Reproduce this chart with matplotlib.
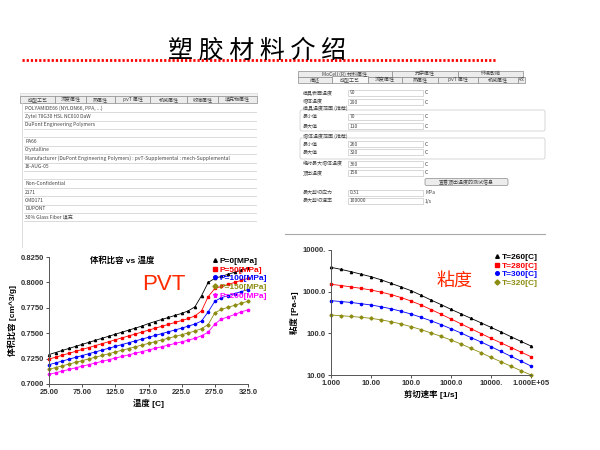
import matplotlib
matplotlib.use('Agg')
import matplotlib.pyplot as plt
from matplotlib.lines import Line2D
from matplotlib.patches import Rectangle, FancyBboxPatch
from matplotlib.ticker import FixedLocator, NullLocator, FixedFormatter

plt.rcParams['font.family'] = ['Liberation Sans', 'Noto Sans CJK SC']

# ---------------- slide text ----------------
title_text = '塑 胶 材 料 介 绍'

left_tabs = ['成型工艺', '流变属性', '热属性', 'pvT 属性', '机械属性', '收缩属性', '填充物属性']
left_rows = ['POLYAMIDE66 (NYLON66, PPA, ...)', 'Zytel 70G30 HSL NC010 DaW',
             'DuPont Engineering Polymers', '', 'PA66', 'Crystalline',
             'Manufacturer (DuPont Engineering Polymers) : pvT-Supplemental : mech-Supplemental',
             '16-AUG-05', '', 'Non-Confidential', '2171', 'CMD171', 'DUPONT',
             '30% Glass Fiber 填充']

right_tabs_top = ['MoCell (R) 材料属性', '光学属性', '环境影响']
right_tabs = ['描述', '成型工艺', '流变属性', '热属性', 'pvT 属性', '机械属性', '收']
right_labels = ['模具表面温度', '熔体温度', '模具温度范围 (推荐)', '最小值', '最大值',
                '熔体温度范围 (推荐)', '最小值', '最大值', '绝对最大熔体温度', '顶出温度',
                '', '最大剪切应力', '最大剪切速率']
right_values = ['90', '290', None, '70', '110', None, '260', '320', '360', '158',
                None, '0.31', '100000']
right_units = ['C', 'C', '', 'C', 'C', '', 'C', 'C', 'C', 'C', '', 'MPa', '1/s']
right_button = '查看顶出温度的测试信息'

# ---------------- PVT data ----------------
pvt_temp = [25, 35, 45, 55, 65, 75, 85, 95, 105, 115, 125, 135, 145, 155, 165, 175,
            185, 195, 205, 215, 225, 235, 245, 255, 265, 275, 285, 295, 305, 315, 325]
pvt_p0 = [0.7290, 0.7310, 0.7330, 0.7350, 0.7370, 0.7390, 0.7410, 0.7430, 0.7450, 0.7470,
          0.7490, 0.7510, 0.7530, 0.7550, 0.7570, 0.7595, 0.7615, 0.7635, 0.7655, 0.7675,
          0.7695, 0.7720, 0.7760, 0.7870, 0.8000, 0.8040, 0.8060, 0.8080, 0.8100, 0.8120, 0.8140]
pvt_p50 = [0.7245, 0.7264, 0.7283, 0.7302, 0.7321, 0.7340, 0.7359, 0.7378, 0.7397, 0.7416,
           0.7435, 0.7454, 0.7473, 0.7492, 0.7511, 0.7530, 0.7549, 0.7568, 0.7587, 0.7606,
           0.7625, 0.7645, 0.7670, 0.7720, 0.7860, 0.7940, 0.7960, 0.7980, 0.8000, 0.8020, 0.8040]
pvt_p100 = [0.7190, 0.7208, 0.7226, 0.7244, 0.7262, 0.7280, 0.7298, 0.7316, 0.7334, 0.7352,
            0.7370, 0.7388, 0.7406, 0.7424, 0.7442, 0.7460, 0.7478, 0.7496, 0.7514, 0.7532,
            0.7550, 0.7570, 0.7590, 0.7620, 0.7710, 0.7815, 0.7850, 0.7870, 0.7890, 0.7910, 0.7930]
pvt_p150 = [0.7145, 0.7162, 0.7179, 0.7196, 0.7213, 0.7230, 0.7247, 0.7264, 0.7281, 0.7298,
            0.7315, 0.7332, 0.7349, 0.7366, 0.7383, 0.7400, 0.7417, 0.7434, 0.7451, 0.7468,
            0.7485, 0.7503, 0.7522, 0.7545, 0.7585, 0.7700, 0.7735, 0.7755, 0.7775, 0.7795, 0.7815]
pvt_p200 = [0.7095, 0.7111, 0.7127, 0.7143, 0.7159, 0.7175, 0.7191, 0.7207, 0.7223, 0.7239,
            0.7255, 0.7271, 0.7287, 0.7303, 0.7319, 0.7335, 0.7351, 0.7367, 0.7383, 0.7399,
            0.7415, 0.7432, 0.7450, 0.7475, 0.7510, 0.7590, 0.7640, 0.7660, 0.7685, 0.7710, 0.7730]
pvt_series = [pvt_p0, pvt_p50, pvt_p100, pvt_p150, pvt_p200]
pvt_labels = ['P=0[MPa]', 'P=50[MPa]', 'P=100[MPa]', 'P=150[MPa]', 'P=200[MPa]']
pvt_colors = ['#000000', '#ff0000', '#0000ff', '#8c8c10', '#ff00ff']
pvt_markers = ['^', 's', 'o', 'D', '*']
pvt_xticks = [25, 75, 125, 175, 225, 275, 325]
pvt_xticklabels = ['25.00', '75.00', '125.0', '175.0', '225.0', '275.0', '325.0']
pvt_yticks = [0.7000, 0.7250, 0.7500, 0.7750, 0.8000, 0.8250]
pvt_yticklabels = ['0.7000', '0.7250', '0.7500', '0.7750', '0.8000', '0.8250']

# ---------------- viscosity data ----------------
shear_rate = [1.0, 1.778, 3.162, 5.623, 10, 17.78, 31.62, 56.23, 100, 177.8, 316.2, 562.3,
              1000, 1778, 3162, 5623, 10000, 17780, 31620, 56230, 100000]
visc_t260 = [3838, 3430, 3020, 2630, 2290, 1930, 1585, 1300, 1057, 822, 631, 490, 377, 294,
             229, 179, 139, 108, 83, 64, 49.7]
visc_t280 = [1500, 1406, 1300, 1202, 1096, 977, 851, 724, 597, 479, 372, 288, 221, 169, 129,
             99, 76, 59, 45.7, 35.5, 27.5]
visc_t300 = [608, 580, 550, 515, 479, 435, 389, 339, 291, 243, 200, 162, 129, 102, 79, 62, 48,
             36.7, 28, 21.5, 16.4]
visc_t320 = [275, 265, 254, 243, 229, 211, 190, 168, 145, 123, 102, 85, 69, 55.6, 43.6, 34.3,
             26.5, 20.8, 16.2, 12.7, 10.0]
visc_series = [visc_t260, visc_t280, visc_t300, visc_t320]
visc_labels = ['T=260[C]', 'T=280[C]', 'T=300[C]', 'T=320[C]']
visc_colors = ['#000000', '#ff0000', '#0000ff', '#8c8c10']
visc_markers = ['^', 's', 'o', 'D']
visc_xticks = [1, 10, 100, 1000, 10000, 100000]
visc_xticklabels = ['1.000', '10.00', '100.0', '1000.0', '10000.', '1.000E+05']
visc_yticks = [10, 100, 1000, 10000]
visc_yticklabels = ['10.00', '100.0', '1000.0', '10000.']

fig = plt.figure(figsize=(6, 4.5), dpi=100)

# ---------------- slide background: title + screenshots ----------------
bg = fig.add_axes([0, 0, 1, 1])
bg.set_xlim(0, 600)
bg.set_ylim(450, 0)
bg.axis('off')

bg.plot([22, 497], [60, 60], color='#ff0000', lw=2.0, linestyle=(0, (0.8, 0.7)), zorder=1)
bg.text(257, 51, title_text, fontsize=18, ha='center', va='center',
        family=['Noto Sans CJK SC'], color='#000000', zorder=2)

small = dict(fontsize=3.6, color='#444444', va='center', family=['Noto Sans CJK SC', 'DejaVu Sans'])

# left screenshot
left_edges = [20, 55, 86, 115, 150, 187, 218, 257]
bg.add_patch(Rectangle((20, 93), 237, 3, fc='#f2f2f2', ec='#d0d0d0', lw=0.4))
for i, name in enumerate(left_tabs):
    x0, x1 = left_edges[i], left_edges[i + 1]
    bg.add_patch(Rectangle((x0, 96), x1 - x0, 7, fc='#ececec', ec='#8a8a8a', lw=0.5))
    bg.text((x0 + x1) / 2, 99.6, name, ha='center', **small)
bg.plot([22, 22], [103, 247], color='#d8d8d8', lw=0.6)
for i, row in enumerate(left_rows):
    y = 108 + i * 8.4
    bg.text(25, y, row, ha='left', **small)
    bg.plot([24, 256], [y + 4.2, y + 4.2], color='#d5d5d5', lw=0.6)

# right screenshot
top_edges = [298, 392, 458, 523]
for i, name in enumerate(right_tabs_top):
    x0, x1 = top_edges[i], top_edges[i + 1]
    bg.add_patch(Rectangle((x0, 71), x1 - x0, 5.5, fc='#ececec', ec='#8a8a8a', lw=0.5))
    bg.text((x0 + x1) / 2, 73.8, name, ha='center', **small)
tab_edges = [298, 332, 368, 402, 438, 478, 518, 525]
for i, name in enumerate(right_tabs):
    x0, x1 = tab_edges[i], tab_edges[i + 1]
    sel = (i == 1)
    bg.add_patch(Rectangle((x0, 76.5 if not sel else 75.5), x1 - x0, 6 if not sel else 7,
                           fc='#f8f8f8' if sel else '#ececec', ec='#8a8a8a', lw=0.5))
    bg.text((x0 + x1) / 2, 79.5, name, ha='center', **small)

row_y = [93, 102, 108, 117, 126, 136, 144, 152, 164, 173, 182, 193, 201]
bg.add_patch(FancyBboxPatch((300, 110), 245, 21, boxstyle='round,pad=0,rounding_size=2',
                            fc='none', ec='#d0d0d0', lw=0.6))
bg.add_patch(FancyBboxPatch((300, 138), 245, 21, boxstyle='round,pad=0,rounding_size=2',
                            fc='none', ec='#d0d0d0', lw=0.6))
for lab, val, unit, y in zip(right_labels, right_values, right_units, row_y):
    bg.text(303, y, lab, ha='left', **small)
    if val is not None:
        bg.add_patch(Rectangle((348, y - 3), 75, 6, fc='white', ec='#c8c8c8', lw=0.5))
        bg.text(350, y, val, ha='left', **small)
    if unit:
        bg.text(425, y, unit, ha='left', **small)
bg.add_patch(FancyBboxPatch((425, 178.5), 83, 7, boxstyle='round,pad=0,rounding_size=1.5',
                            fc='#ececec', ec='#8a8a8a', lw=0.5))
bg.text(466, 182, right_button, ha='center', **small)
bg.plot([285, 545], [234, 234], color='#a8a8a8', lw=0.8)


def style_axes(ax):
    for s in ['top', 'right']:
        ax.spines[s].set_visible(False)
    for s in ['left', 'bottom']:
        ax.spines[s].set_color('#555555')
        ax.spines[s].set_linewidth(0.7)
    ax.tick_params(length=2, width=0.6, pad=1.5, colors='#333333', labelsize=5.5)
    for lbl in ax.get_xticklabels() + ax.get_yticklabels():
        lbl.set_fontweight('bold')


# ---------------- PVT chart ----------------
ax1 = fig.add_axes([49 / 600, 1 - 384 / 450, 199 / 600, 127 / 450])
ax1.patch.set_alpha(0)
for vals, col, mk in zip(pvt_series, pvt_colors, pvt_markers):
    ax1.plot(pvt_temp, vals, color=col, lw=0.6, marker=mk, ms=1.6 if mk != '*' else 2.4,
             mec=col, mfc=col, clip_on=False)
ax1.set_xlim(25, 325)
ax1.set_ylim(0.70, 0.825)
ax1.xaxis.set_major_locator(FixedLocator(pvt_xticks))
ax1.xaxis.set_major_formatter(FixedFormatter(pvt_xticklabels))
ax1.yaxis.set_major_locator(FixedLocator(pvt_yticks))
ax1.yaxis.set_major_formatter(FixedFormatter(pvt_yticklabels))
style_axes(ax1)
ax1.set_xlabel('温度 [C]', fontsize=6, fontweight='bold', labelpad=2)
ax1.set_ylabel('体积比容 [cm^3/g]', fontsize=6, fontweight='bold', labelpad=3)
ax1.text(0.37, 0.975, '体积比容 vs 温度', transform=ax1.transAxes, ha='center', va='center',
         fontsize=6, fontweight='bold')
ax1.text(0.575, 0.78, 'PVT', transform=ax1.transAxes, ha='center', va='center',
         fontsize=16, color='#ff2a00')
h1 = [Line2D([], [], color=c, marker=m, linestyle='none', ms=2.6 if m != '*' else 3.6)
      for c, m in zip(pvt_colors, pvt_markers)]
ax1.legend(h1, pvt_labels, loc='upper left', bbox_to_anchor=(208 / 600, 1 - 253 / 450),
           bbox_transform=fig.transFigure, frameon=False, labelcolor=pvt_colors,
           prop=dict(size=6, weight='bold'), handlelength=0.6, handletextpad=0.3,
           labelspacing=0.1, borderpad=0)

# ---------------- viscosity chart ----------------
ax2 = fig.add_axes([331 / 600, 1 - 375 / 450, 200 / 600, 125 / 450])
ax2.patch.set_alpha(0)
for vals, col, mk in zip(visc_series, visc_colors, visc_markers):
    ax2.plot(shear_rate, vals, color=col, lw=0.6, marker=mk, ms=1.6, mec=col, mfc=col,
             clip_on=False)
ax2.set_xscale('log')
ax2.set_yscale('log')
ax2.set_xlim(1, 1e5)
ax2.set_ylim(10, 1e4)
ax2.xaxis.set_major_locator(FixedLocator(visc_xticks))
ax2.xaxis.set_major_formatter(FixedFormatter(visc_xticklabels))
ax2.yaxis.set_major_locator(FixedLocator(visc_yticks))
ax2.yaxis.set_major_formatter(FixedFormatter(visc_yticklabels))
ax2.xaxis.set_minor_locator(NullLocator())
ax2.yaxis.set_minor_locator(NullLocator())
style_axes(ax2)
ax2.set_xlabel('剪切速率 [1/s]', fontsize=6, fontweight='bold', labelpad=2)
ax2.set_ylabel('粘度 [Pa-s]', fontsize=6, fontweight='bold', labelpad=3)
ax2.text(0.62, 0.75, '粘度', transform=ax2.transAxes, ha='center', va='center',
         fontsize=13, color='#ff2a00', family=['Noto Sans CJK SC'])
h2 = [Line2D([], [], color=c, marker=m, linestyle='none', ms=2.6)
      for c, m in zip(visc_colors, visc_markers)]
ax2.legend(h2, visc_labels, loc='upper left', bbox_to_anchor=(490 / 600, 1 - 249 / 450),
           bbox_transform=fig.transFigure, frameon=False, labelcolor=visc_colors,
           prop=dict(size=6, weight='bold'), handlelength=0.6, handletextpad=0.3,
           labelspacing=0.1, borderpad=0)

fig.savefig('out.png', dpi=100)
